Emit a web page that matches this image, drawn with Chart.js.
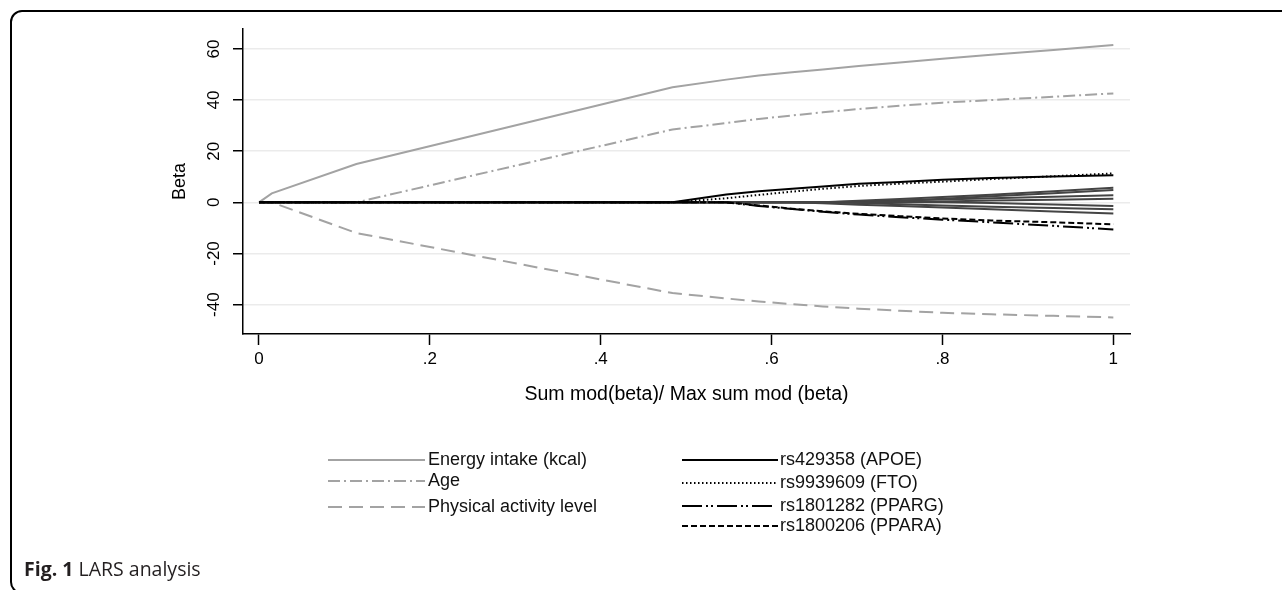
<!DOCTYPE html>
<html>
<head>
<meta charset="utf-8">
<script src="https://cdn.jsdelivr.net/npm/chart.js@4.4.1/dist/chart.umd.min.js"></script>
<style>
  html, body { margin: 0; padding: 0; background: #fff; }
  body { width: 1282px; height: 590px; position: relative; overflow: hidden; }
  #card { position: absolute; left: 10px; top: 10px; width: 1300px; height: 584px; box-sizing: border-box;
          border: 2px solid #000; border-radius: 12px; }
  #chart { position: absolute; left: 0; top: 0; }
  #caption { position: absolute; left: 24px; top: 559px; font-family: "Open Sans", sans-serif; font-size: 19.5px;
             line-height: 20px; color: #231f20; white-space: nowrap; }
</style>
</head>
<body>
<div id="card"></div>
<canvas id="chart" width="1282" height="590"></canvas>
<div id="caption"><b>Fig. 1</b> LARS analysis</div>
<script>
// LARS path: x = sum|beta| / max sum|beta|, values at each step
const steps = [0, 0.015, 0.114, 0.484, 0.547, 0.585, 0.624, 0.66, 0.702, 0.75, 0.8, 0.857, 0.93, 1];

const energy   = [0, 3.5, 15, 45, 48, 49.6, 50.9, 52, 53.3, 54.7, 56.2, 57.7, 59.6, 61.5];
const age      = [0, 0, 0, 28.5, 31, 32.6, 34, 35.2, 36.5, 37.8, 39, 40, 41.3, 42.6];
const activity = [0, 0, -12, -35.5, -37.6, -38.8, -39.8, -40.7, -41.6, -42.4, -43.2, -43.8, -44.4, -45];
const apoe     = [0, 0, 0, 0, 3.1, 4.3, 5.3, 6.2, 7.3, 8.0, 8.8, 9.5, 10.1, 10.6];
const fto      = [0, 0, 0, 0, 1.6, 2.9, 4.2, 5.3, 6.4, 7.3, 8.1, 9.1, 10.2, 11.3];
const pparg    = [0, 0, 0, 0, 0, -1.4, -2.6, -3.7, -4.8, -5.8, -6.8, -7.8, -9.2, -10.6];
const ppara    = [0, 0, 0, 0, 0, -1.2, -2.5, -3.5, -4.5, -5.4, -6.3, -7.1, -7.8, -8.6];
// other SNPs (not in the legend)
const snpA = [0, 0, 0, 0, 0, 0, 0, 0, 0.6, 1.3, 2.1, 3.0, 4.3, 5.7];
const snpB = [0, 0, 0, 0, 0, 0, 0, 0, 0, 0.6, 1.4, 2.4, 3.6, 4.8];
const snpC = [0, 0, 0, 0, 0, 0, 0, 0, 0.3, 0.7, 1.1, 1.6, 2.2, 2.8];
const snpD = [0, 0, 0, 0, 0, 0, 0, 0, 0, 0, 0.3, 0.7, 1.0, 1.4];
const snpE = [0, 0, 0, 0, 0, 0, 0, 0, -0.3, -0.7, -1.2, -1.7, -2.2, -2.7];
const snpF = [0, 0, 0, 0, 0, 0, 0, -0.4, -0.9, -1.4, -2.0, -2.7, -3.6, -4.4];
const snpG = [0, 0, 0, 0, 0, 0, 0, 0, 0, 0, 0, -0.3, -0.8, -1.4];

const xTicks = [0, 0.2, 0.4, 0.6, 0.8, 1];
const xTickLabels = ['0', '.2', '.4', '.6', '.8', '1'];
const yTicks = [-40, -20, 0, 20, 40, 60];

const FONT = '"Liberation Sans", Arial, sans-serif';
const GRAY = '#a3a3a3';

function pts(vals) {
    return steps.map((s, i) => ({ x: s, y: vals[i] }));
}

// order: lower number is drawn on top, so the black SNP paths cover the grey ones at zero
function line(label, vals, color, dash, order) {
    return {
        label: label,
        data: pts(vals),
        borderColor: color,
        borderDash: dash,
        borderWidth: 2,
        pointRadius: 0,
        fill: false,
        tension: 0,
        order: order
    };
}

// legend slots: left column (grey covariates), right column (SNPs)
const legendSlots = [
    { x0: 328, x1: 425, tx: 428, y: 460 },
    { x0: 328, x1: 425, tx: 428, y: 481 },
    { x0: 328, x1: 425, tx: 428, y: 507 },
    { x0: 682, x1: 778, tx: 780, y: 460 },
    { x0: 682, x1: 778, tx: 780, y: 483 },
    { x0: 682, x1: 773, tx: 780, y: 506 },
    { x0: 682, x1: 778, tx: 780, y: 526 }
];

const stataLegend = {
    id: 'stataLegend',
    afterDraw(chart) {
        const ctx = chart.ctx;
        chart.data.datasets.forEach((ds, i) => {
            const s = legendSlots[i];
            if (!s || !ds.label) return;
            ctx.save();
            ctx.strokeStyle = ds.borderColor;
            ctx.lineWidth = 2;
            ctx.setLineDash(ds.borderDash || []);
            ctx.beginPath();
            ctx.moveTo(s.x0, s.y);
            ctx.lineTo(s.x1, s.y);
            ctx.stroke();
            ctx.setLineDash([]);
            ctx.fillStyle = '#111';
            ctx.font = '18px ' + FONT;
            ctx.textBaseline = 'middle';
            ctx.fillText(ds.label, s.tx, s.y);
            ctx.restore();
        });
    }
};

document.addEventListener("DOMContentLoaded", function() {
    const ctx = document.getElementById('chart').getContext('2d');
    new Chart(ctx, {
        type: 'line',
        data: {
            datasets: [
                line('Energy intake (kcal)', energy, GRAY, [], 3),
                line('Age', age, GRAY, [12, 4, 2, 4], 3),
                line('Physical activity level', activity, GRAY, [14, 7], 3),
                line('rs429358 (APOE)', apoe, '#000', [], 1),
                line('rs9939609 (FTO)', fto, '#000', [1.5, 2.5], 1),
                line('rs1801282 (PPARG)', pparg, '#000', [20, 4, 2, 3, 2, 4], 1),
                line('rs1800206 (PPARA)', ppara, '#000', [6, 3], 1),
                line('', snpA, '#444', [], 2),
                line('', snpB, '#444', [], 2),
                line('', snpC, '#444', [], 2),
                line('', snpD, '#444', [], 2),
                line('', snpE, '#444', [], 2),
                line('', snpF, '#444', [], 2),
                line('', snpG, '#444', [], 2)
            ]
        },
        options: {
            responsive: false,
            animation: false,
            devicePixelRatio: 1,
            layout: { padding: { top: 29, right: 152, left: 0, bottom: 0 } },
            plugins: {
                legend: { display: false },
                tooltip: { enabled: false }
            },
            scales: {
                x: {
                    type: 'linear',
                    min: -0.0187,
                    max: 1.0195,
                    afterBuildTicks: function(scale) {
                        scale.ticks = xTicks.map(v => ({ value: v }));
                    },
                    afterFit: function(scale) { scale.height = 256; },
                    ticks: {
                        autoSkip: false,
                        maxRotation: 0,
                        padding: 4,
                        color: '#000',
                        font: { family: FONT, size: 17 },
                        callback: function(value) {
                            return xTickLabels[xTicks.indexOf(value)];
                        }
                    },
                    grid: { drawOnChartArea: false, tickLength: 11, tickColor: '#000', tickWidth: 1.5 },
                    border: { color: '#000', width: 1.5 },
                    title: {
                        display: true,
                        text: 'Sum mod(beta)/ Max sum mod (beta)',
                        color: '#000',
                        font: { family: FONT, size: 19.5 },
                        padding: { top: 0, bottom: 184 }
                    }
                },
                y: {
                    min: -51.5,
                    max: 67.8,
                    afterBuildTicks: function(scale) {
                        scale.ticks = yTicks.map(v => ({ value: v }));
                    },
                    afterFit: function(scale) { scale.width = 243; },
                    ticks: {
                        minRotation: 90,
                        maxRotation: 90,
                        crossAlign: 'center',
                        padding: 6,
                        color: '#000',
                        font: { family: FONT, size: 17 },
                        callback: function(value) { return String(value); }
                    },
                    grid: { color: '#ebebeb', lineWidth: 1.5, tickLength: 10, tickColor: '#000', tickWidth: 1.5 },
                    border: { color: '#000', width: 1.5 },
                    title: {
                        display: true,
                        text: 'Beta',
                        color: '#000',
                        font: { family: FONT, size: 18 },
                        padding: { top: 169, bottom: 0 }
                    }
                }
            }
        },
        plugins: [stataLegend]
    });
});
</script>
</body>
</html>
